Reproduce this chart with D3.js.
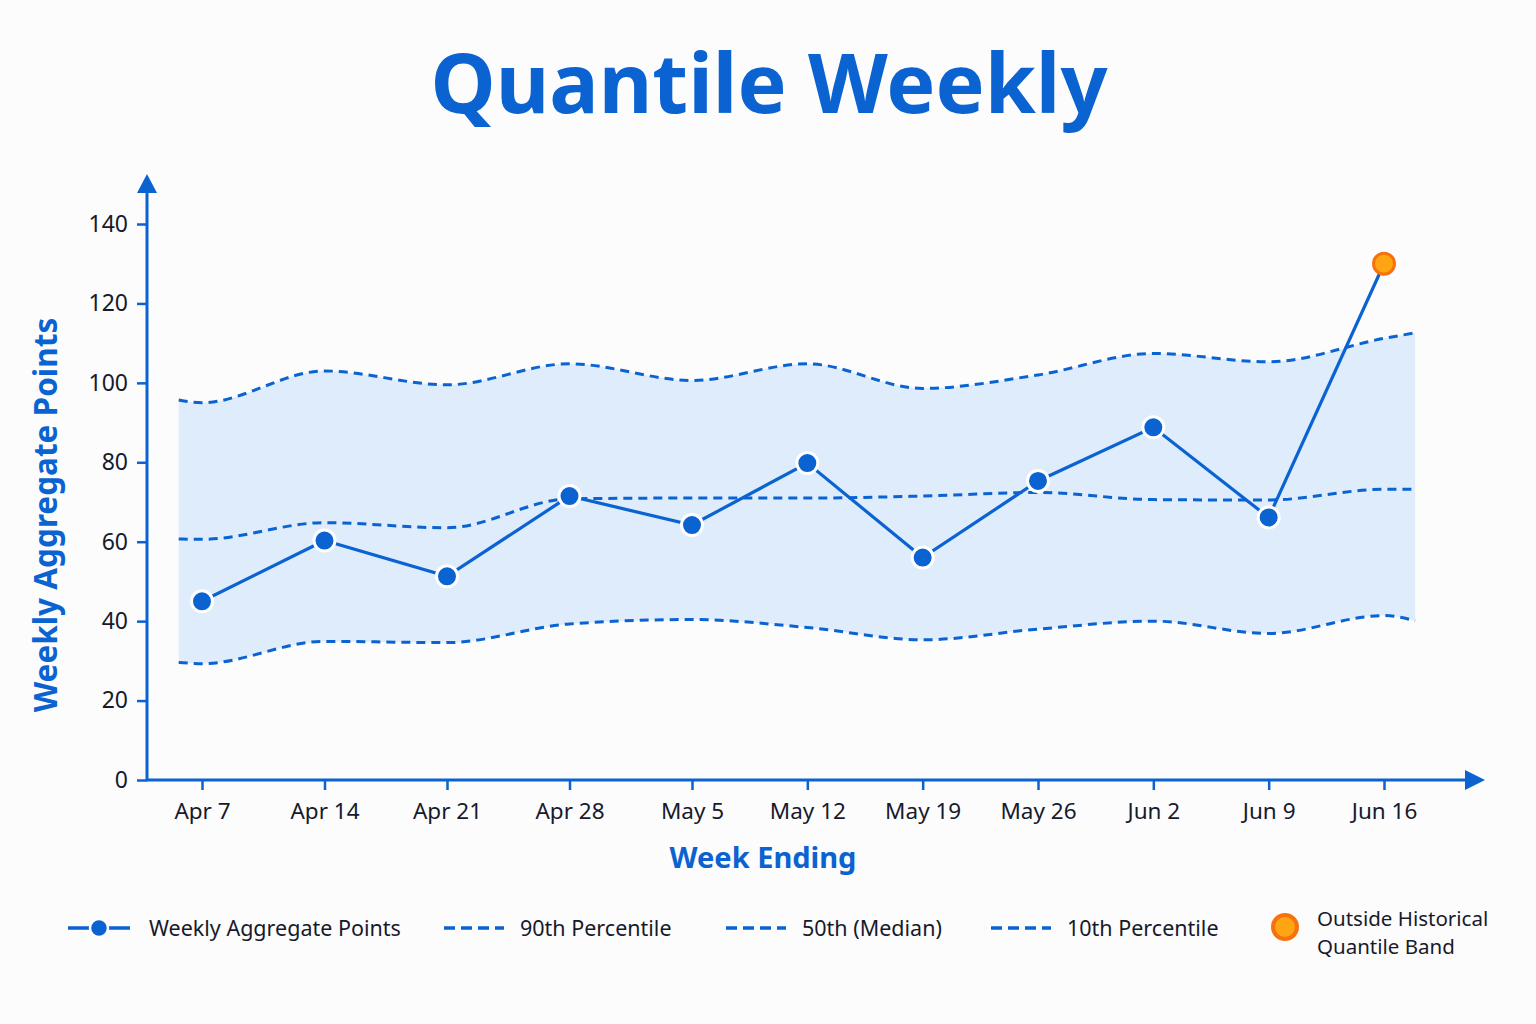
<!DOCTYPE html>
<html lang="en">
<head>
<meta charset="UTF-8">
<title>Quantile Weekly</title>
<script src="https://d3js.org/d3.v7.min.js"></script>
<style>
  html, body { margin: 0; padding: 0; background: #fcfcfd; }
  svg { display: block; font-family: "Noto Sans", "Open Sans", sans-serif; }
</style>
</head>
<body>
<script>
    // week labels and the weekly aggregate series
    var weeks = ["Apr 7", "Apr 14", "Apr 21", "Apr 28", "May 5", "May 12", "May 19", "May 26", "Jun 2", "Jun 9", "Jun 16"];
    var weekly = [45, 60.3, 51.3, 71.5, 64.2, 79.8, 56, 75.3, 88.8, 66.1, 130];
    var outside = [false, false, false, false, false, false, false, false, false, false, true];

    // historical quantiles, read at each week (plus the two band edges)
    var bandWeek = [-0.19, 0, 1, 2, 3, 4, 5, 6, 7, 8, 9, 10, 10.27];
    var p90 = [95.7, 95, 103, 99.5, 104.8, 100.6, 104.8, 98.6, 102, 107.4, 105.3, 111.2, 112.6];
    var p50 = [60.7, 60.6, 64.8, 63.5, 70.8, 71, 71, 71.5, 72.4, 70.6, 70.5, 73.2, 73.2];
    var p10 = [29.6, 29.3, 34.9, 34.6, 39.3, 40.4, 38.4, 35.3, 38, 40, 36.9, 41.4, 40.1];

    var yTicks = [0, 20, 40, 60, 80, 100, 120, 140];

    var legendItems = [
        {kind: "point", text: ["Weekly Aggregate Points"], x: 68},
        {kind: "dash", text: ["90th Percentile"], x: 444},
        {kind: "dash", text: ["50th (Median)"], x: 726},
        {kind: "dash", text: ["10th Percentile"], x: 991},
        {kind: "outside", text: ["Outside Historical", "Quantile Band"], x: 1272}
    ];

    var W = 1536, H = 1024;
    var blue = "#0a63d1", band = "#deecfc", ink = "#161a2b";
    var orangeFill = "#ffa412", orangeStroke = "#f5720f";

    // the weeks are not quite evenly spread in the picture: wider before May 5
    var x = d3.scaleLinear().domain([0, 4, 10]).range([202, 692, 1384]);
    var y = d3.scaleLinear().domain([0, 140]).range([780, 224]);
    var axisX = 147, axisY = 780;

    const svg = d3.select("body").append("svg")
        .attr("width", W)
        .attr("height", H)
        .attr("viewBox", [0, 0, W, H]);

    svg.append("rect").attr("width", W).attr("height", H).attr("fill", "#fcfcfd");

    // title
    svg.append("text")
        .attr("x", 769).attr("y", 113)
        .attr("text-anchor", "middle")
        .attr("font-size", 82.5)
        .attr("font-weight", 700)
        .attr("fill", blue)
        .text("Quantile Weekly");

    // quantile band
    const bandData = bandWeek.map((w, i) => ({w: w, lo: p10[i], mid: p50[i], hi: p90[i]}));

    svg.append("path")
        .datum(bandData)
        .attr("fill", band)
        .attr("d", d3.area().curve(d3.curveMonotoneX)
            .x(d => x(d.w)).y0(d => y(d.lo)).y1(d => y(d.hi)));

    ["hi", "mid", "lo"].forEach(k => {
        svg.append("path")
            .datum(bandData)
            .attr("fill", "none")
            .attr("stroke", blue)
            .attr("stroke-width", 3)
            .attr("stroke-dasharray", "9,6")
            .attr("d", d3.line().curve(d3.curveMonotoneX)
                .x(d => x(d.w)).y(d => y(d[k])));
    });

    // axes
    const gy = svg.append("g")
        .attr("transform", `translate(${axisX},0)`)
        .call(d3.axisLeft(y).tickValues(yTicks).tickSize(10).tickPadding(9).tickSizeOuter(0));
    gy.select(".domain").remove();
    gy.selectAll(".tick line").attr("stroke", blue).attr("stroke-width", 2.5);
    gy.selectAll(".tick text").attr("fill", ink).attr("font-size", 23).attr("font-family", "Noto Sans");

    const gx = svg.append("g")
        .attr("transform", `translate(0,${axisY})`)
        .call(d3.axisBottom(x).tickValues(d3.range(weeks.length)).tickFormat(i => weeks[i])
            .tickSize(10).tickPadding(13).tickSizeOuter(0));
    gx.select(".domain").remove();
    gx.selectAll(".tick line").attr("stroke", blue).attr("stroke-width", 2.5);
    gx.selectAll(".tick text").attr("fill", ink).attr("font-size", 22.5).attr("font-family", "Noto Sans");

    // axis lines with arrow heads
    svg.append("line")
        .attr("x1", axisX).attr("y1", axisY + 1).attr("x2", axisX).attr("y2", 190)
        .attr("stroke", blue).attr("stroke-width", 3);
    svg.append("path")
        .attr("d", `M${axisX},174 L${axisX - 10},193 L${axisX + 10},193 Z`)
        .attr("fill", blue);
    svg.append("line")
        .attr("x1", axisX - 1).attr("y1", axisY).attr("x2", 1468).attr("y2", axisY)
        .attr("stroke", blue).attr("stroke-width", 3);
    svg.append("path")
        .attr("d", `M1485,${axisY} L1465,${axisY - 10} L1465,${axisY + 10} Z`)
        .attr("fill", blue);

    // axis titles
    svg.append("text")
        .attr("x", 763).attr("y", 868)
        .attr("text-anchor", "middle")
        .attr("font-size", 29).attr("font-weight", 700)
        .attr("fill", blue)
        .text("Week Ending");

    svg.append("text")
        .attr("transform", "translate(57,515) rotate(-90)")
        .attr("text-anchor", "middle")
        .attr("font-size", 31.5).attr("font-weight", 700)
        .attr("fill", blue)
        .text("Weekly Aggregate Points");

    // weekly series
    svg.append("path")
        .datum(weekly)
        .attr("fill", "none")
        .attr("stroke", blue)
        .attr("stroke-width", 3.2)
        .attr("d", d3.line().x((d, i) => x(i)).y(d => y(d)));

    svg.append("g")
        .selectAll("circle")
        .data(weekly)
        .join("circle")
        .attr("cx", (d, i) => x(i))
        .attr("cy", d => y(d))
        .attr("r", 10.5)
        .attr("fill", (d, i) => outside[i] ? orangeFill : blue)
        .attr("stroke", (d, i) => outside[i] ? orangeStroke : "#ffffff")
        .attr("stroke-width", 3);

    // legend
    const legend = svg.append("g").attr("transform", "translate(0,928)");
    legendItems.forEach(item => {
        const g = legend.append("g").attr("transform", `translate(${item.x},0)`);
        let tx = 0;
        if (item.kind === "point") {
            g.append("line").attr("x1", 0).attr("x2", 62).attr("y1", 0).attr("y2", 0)
                .attr("stroke", blue).attr("stroke-width", 3.5);
            g.append("circle").attr("cx", 31).attr("cy", 0).attr("r", 9)
                .attr("fill", blue).attr("stroke", "#ffffff").attr("stroke-width", 2.5);
            tx = 81;
        } else if (item.kind === "dash") {
            g.append("line").attr("x1", 0).attr("x2", 60).attr("y1", 0).attr("y2", 0)
                .attr("stroke", blue).attr("stroke-width", 3.5).attr("stroke-dasharray", "11,6");
            tx = 76;
        } else {
            g.append("circle").attr("cx", 13).attr("cy", -1).attr("r", 12)
                .attr("fill", orangeFill).attr("stroke", orangeStroke).attr("stroke-width", 4);
            tx = 45;
        }
        const t = g.append("text")
            .attr("x", tx)
            .attr("y", item.text.length > 1 ? -9 : 0)
            .attr("font-size", item.text.length > 1 ? 20.5 : 21.5)
            .attr("fill", ink);
        item.text.forEach((s, j) => {
            t.append("tspan").attr("x", tx).attr("dy", j === 0 ? "0.35em" : "1.35em").text(s);
        });
    });
</script>
</body>
</html>
